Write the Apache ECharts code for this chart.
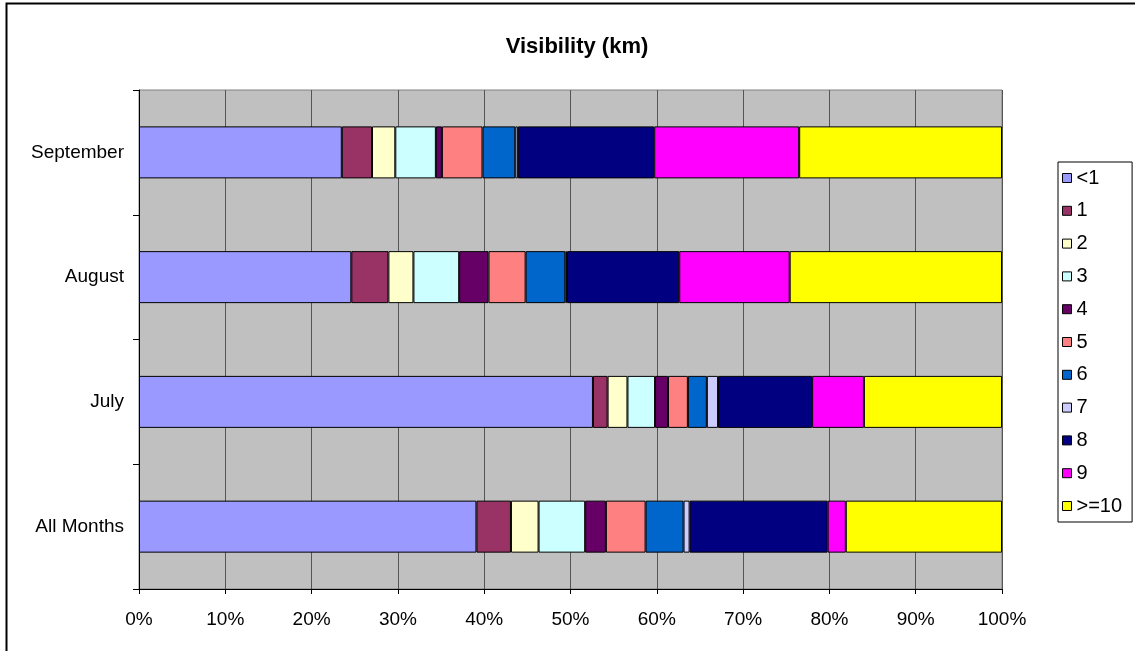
<!DOCTYPE html>
<html>
<head>
<meta charset="utf-8">
<title>Visibility (km)</title>
<script src="https://cdn.jsdelivr.net/npm/echarts@6/dist/echarts.min.js"></script>
<style>
	html,body{margin:0;padding:0;background:#fff;}
	#chart{width:1135px;height:651px;}
</style>
</head>
<body>
<div id="chart"></div>
<script>
// categories bottom to top
var months = ['All Months', 'July', 'August', 'September'];
var classes = ['<1', '1', '2', '3', '4', '5', '6', '7', '8', '9', '>=10'];
var colors = ['#9999FF', '#993366', '#FFFFCC', '#CCFFFF', '#660066', '#FF8080', '#0066CC', '#CCCCFF', '#000080', '#FF00FF', '#FFFF00'];
var xTicks = ['0%', '10%', '20%', '30%', '40%', '50%', '60%', '70%', '80%', '90%', '100%'];

// share (%) per class, order: All Months, July, August, September
var lt1   = [39.1, 52.6, 24.6, 23.5];
var km1   = [4.0, 1.7, 4.3, 3.5];
var km2   = [3.2, 2.3, 2.9, 2.7];
var km3   = [5.4, 3.2, 5.3, 4.7];
var km4   = [2.4, 1.5, 3.4, 0.7];
var km5   = [4.6, 2.3, 4.3, 4.7];
var km6   = [4.4, 2.2, 4.6, 3.8];
var km7   = [0.7, 1.3, 0.2, 0.3];
var km8   = [16.0, 10.9, 13.0, 15.8];
var km9   = [2.1, 6.0, 12.8, 16.8];
var ge10  = [18.1, 16.0, 24.6, 23.5];
var values = [lt1, km1, km2, km3, km4, km5, km6, km7, km8, km9, ge10];

var font = 'Liberation Sans, Arial, sans-serif';
var chart = echarts.init(document.getElementById('chart'));

var series = [];
for (var i = 0; i < classes.length; i++) {
	series.push({
		name: classes[i],
		type: 'bar',
		stack: 'total',
		barWidth: 52,
		itemStyle: {color: colors[i], borderColor: '#000', borderWidth: 1},
		data: values[i]
	});
}

chart.setOption({
	animation: false,
	backgroundColor: '#fff',
	textStyle: {fontFamily: font, color: '#000'},
	title: {
		text: 'Visibility (km)',
		left: 572,
		textAlign: 'center',
		top: 31,
		textStyle: {fontFamily: font, fontSize: 22, fontWeight: 'bold', color: '#000'}
	},
	graphic: [{
		type: 'rect',
		shape: {x: 6.5, y: 3.5, width: 1140, height: 660},
		style: {fill: 'none', stroke: '#000', lineWidth: 2},
		silent: true
	}],
	legend: {
		orient: 'vertical',
		left: 1058,
		top: 162,
		padding: [6, 10, 6, 4],
		itemGap: 12.8,
		itemWidth: 9,
		itemHeight: 9,
		borderColor: '#000',
		borderWidth: 1,
		backgroundColor: '#fff',
		icon: 'rect',
		itemStyle: {borderColor: '#000', borderWidth: 1},
		textStyle: {fontFamily: font, fontSize: 20, color: '#000'},
		data: classes
	},
	grid: {
		left: 139,
		top: 90,
		right: 133,
		bottom: 62,
		show: true,
		backgroundColor: '#c0c0c0',
		borderColor: '#808080',
		borderWidth: 1
	},
	xAxis: {
		type: 'value',
		min: 0,
		max: 100,
		interval: 10,
		axisLine: {show: true, lineStyle: {color: '#000'}},
		axisTick: {show: true, length: 5, lineStyle: {color: '#000'}},
		axisLabel: {
			margin: 21,
			fontFamily: font,
			fontSize: 19,
			color: '#000',
			formatter: function (v) { return xTicks[Math.round(v / 10)]; }
		},
		splitLine: {show: true, lineStyle: {color: '#555', width: 1}}
	},
	yAxis: {
		type: 'category',
		data: months,
		axisLine: {show: true, lineStyle: {color: '#000'}},
		axisTick: {show: true, length: 6, lineStyle: {color: '#000'}},
		axisLabel: {margin: 15, fontFamily: font, fontSize: 19, color: '#000'},
		splitLine: {show: false}
	},
	series: series
});
</script>
</body>
</html>
